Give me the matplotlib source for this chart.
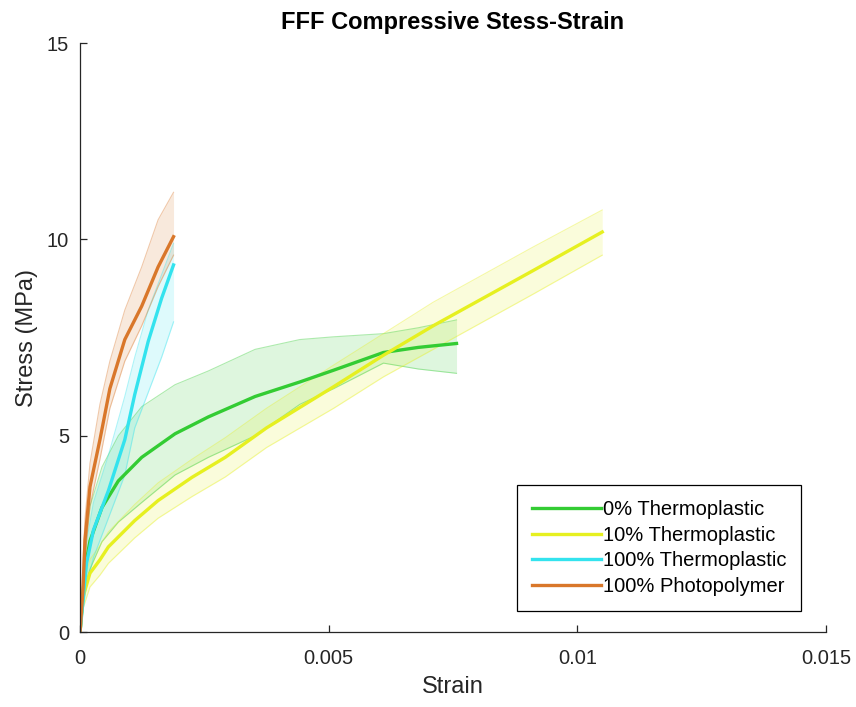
import numpy as np
import matplotlib
matplotlib.use('Agg')
import matplotlib.pyplot as plt

plt.rcParams['font.family'] = ['Liberation Sans', 'DejaVu Sans']

# 0% Thermoplastic
strain_0 = [0, 0.0001, 0.0002, 0.00044, 0.00077, 0.00124, 0.00191, 0.00258, 0.00352, 0.00442, 0.0051, 0.0061, 0.0068, 0.00757]
stress_0 = [0, 1.63, 2.32, 3.17, 3.85, 4.45, 5.05, 5.48, 6.0, 6.37, 6.67, 7.12, 7.25, 7.35]
upper_0 = [0, 2.2, 3.2, 4.2, 5.0, 5.74, 6.3, 6.65, 7.2, 7.45, 7.52, 7.6, 7.75, 7.95]
lower_0 = [0, 1.2, 1.6, 2.3, 2.8, 3.3, 4.0, 4.45, 5.0, 5.8, 6.2, 6.85, 6.7, 6.59]

# 10% Thermoplastic
strain_10 = [0, 0.00006, 0.0002, 0.0004, 0.00057, 0.0011, 0.00157, 0.00225, 0.00292, 0.00375, 0.0051, 0.0061, 0.0071, 0.0091, 0.0105]
stress_10 = [0, 0.9, 1.5, 1.84, 2.17, 2.84, 3.35, 3.94, 4.45, 5.2, 6.25, 7.05, 7.8, 9.2, 10.19]
upper_10 = [0, 1.2, 1.85, 2.2, 2.55, 3.25, 3.8, 4.4, 4.95, 5.7, 6.8, 7.6, 8.4, 9.8, 10.75]
lower_10 = [0, 0.6, 1.15, 1.45, 1.75, 2.4, 2.9, 3.45, 3.95, 4.7, 5.7, 6.5, 7.2, 8.6, 9.6]

# 100% Thermoplastic
strain_100 = [0, 0.00013, 0.00027, 0.00057, 0.0009, 0.0011, 0.00137, 0.00164, 0.00188]
stress_100 = [0, 1.75, 2.6, 3.6, 4.9, 6.05, 7.4, 8.5, 9.35]
upper_100 = [0, 2.3, 3.3, 4.5, 6.0, 7.0, 8.2, 9.1, 9.9]
lower_100 = [0, 1.2, 1.9, 2.9, 4.0, 5.2, 6.1, 7.0, 7.9]

# 100% Photopolymer
strain_pp = [0, 0.00006, 0.0001, 0.0002, 0.0004, 0.0006, 0.0009, 0.00124, 0.00157, 0.00188]
stress_pp = [0, 1.1, 2.35, 3.7, 4.9, 6.2, 7.45, 8.3, 9.3, 10.07]
upper_pp = [0, 1.8, 2.9, 4.3, 5.8, 6.9, 8.2, 9.3, 10.5, 11.2]
lower_pp = [0, 0.8, 1.9, 3.2, 4.4, 5.7, 6.9, 7.8, 8.8, 9.6]

labels = ['0% Thermoplastic', '10% Thermoplastic', '100% Thermoplastic', '100% Photopolymer']
colors = ['#33CC33', '#E6F020', '#33E3EE', '#D9772A']

series = [
    (strain_0, stress_0, upper_0, lower_0),
    (strain_10, stress_10, upper_10, lower_10),
    (strain_100, stress_100, upper_100, lower_100),
    (strain_pp, stress_pp, upper_pp, lower_pp),
]

fig = plt.figure(figsize=(8.56, 7.07), dpi=100)
ax = fig.add_axes([0.0935, 0.106, 0.8715, 0.833])

# shaded bands first, then mean lines on top
for (x, y, up, lo), c in zip(series, colors):
    ax.fill_between(x, lo, up, color=c, alpha=0.16, lw=0)
    ax.plot(x, up, color=c, alpha=0.4, lw=0.8)
    ax.plot(x, lo, color=c, alpha=0.4, lw=0.8)

for (x, y, up, lo), c, lab in zip(series, colors, labels):
    ax.plot(x, y, color=c, lw=2.4, label=lab)

ax.set_xlim(0, 0.015)
ax.set_ylim(0, 15)
ax.set_xticks([0, 0.005, 0.01, 0.015])
ax.set_xticklabels(['0', '0.005', '0.01', '0.015'])
ax.set_yticks([0, 5, 10, 15])
ax.spines['top'].set_visible(False)
ax.spines['right'].set_visible(False)
for s in ['left', 'bottom']:
    ax.spines[s].set_color('#262626')
    ax.spines[s].set_linewidth(0.9)
ax.tick_params(direction='in', length=5, width=0.9, colors='#262626',
               labelsize=14.5)
ax.tick_params(axis='x', pad=12)
ax.tick_params(axis='y', pad=8)

ax.set_xlabel('Strain', fontsize=17, color='#262626', labelpad=6)
ax.set_ylabel('Stress (MPa)', fontsize=17, color='#262626', labelpad=6)
ax.set_title('FFF Compressive Stess-Strain', fontsize=17, fontweight='bold', pad=10)

leg = ax.legend(loc='upper left', bbox_to_anchor=(0.586, 0.25), fontsize=14.5,
                frameon=True, fancybox=False, framealpha=1, edgecolor='black',
                handlelength=3.4, handletextpad=0.1, labelspacing=0.33,
                borderpad=0.75, borderaxespad=0)
leg.get_frame().set_linewidth(0.9)

plt.savefig('out.png', dpi=100)
